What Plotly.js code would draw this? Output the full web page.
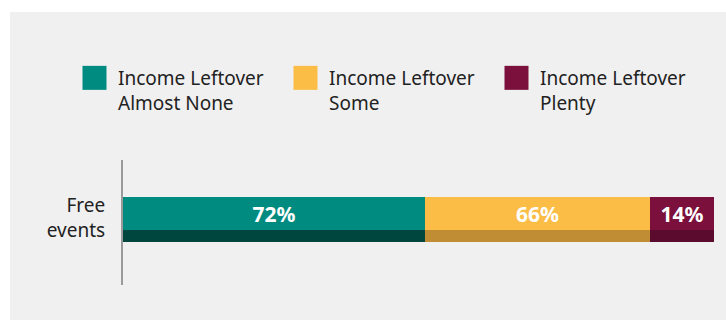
<!DOCTYPE html>
<html><head><meta charset="utf-8">
<script src="https://cdn.plot.ly/plotly-3.0.1.min.js"></script>
<style>
html,body{margin:0;padding:0;background:#ffffff;width:726px;height:320px;overflow:hidden}
#chart{position:absolute;left:10px;top:12px;width:716px;height:308px}
</style>
</head><body><div id="chart"></div>
<script>
// ---- data ----
const categories = ['Free<br>events'];
const seriesNames = ['Income Leftover<br>Almost None', 'Income Leftover<br>Some', 'Income Leftover<br>Plenty'];
const barShares = [51.1, 38.1, 10.8];          // drawn segment lengths (share of bar)
const barLabels = ['72%', '66%', '14%'];      // printed values
const mainColors = ['#008b80', '#fbbd45', '#7a103b'];
const shadowColors = ['#00463f', '#c08c34', '#5a0b2e'];

// ---- layout constants ----
const MAIN_Y = 71.5, MAIN_W = 33;
const SHADOW_Y = 49, SHADOW_W = 12;
const FONT = '"Noto Sans", "Open Sans", sans-serif';

const traces = [];
seriesNames.forEach((name, i) => {
  traces.push({
    type: 'bar', orientation: 'h',
    x: [barShares[i]], y: [MAIN_Y], width: [MAIN_W],
    name: name, legendgroup: 'g' + i,
    marker: {color: mainColors[i], line: {width: 0}},
    text: [barLabels[i]], textposition: 'inside', insidetextanchor: 'middle',
    constraintext: 'none',
    textfont: {family: FONT, size: 21, color: '#ffffff', weight: 'bold'},
    hoverinfo: 'skip'
  });
});
seriesNames.forEach((name, i) => {
  traces.push({
    type: 'bar', orientation: 'h',
    x: [barShares[i]], y: [SHADOW_Y], width: [SHADOW_W],
    name: name, legendgroup: 'g' + i, showlegend: false,
    marker: {color: shadowColors[i], line: {width: 0}},
    hoverinfo: 'skip'
  });
});

const layout = {
  width: 716, height: 308,
  paper_bgcolor: '#f0f0f0', plot_bgcolor: 'rgba(0,0,0,0)',
  margin: {l: 113, r: 12, t: 148, b: 35, pad: 0, autoexpand: false},
  barmode: 'stack', bargap: 0,
  font: {family: FONT, size: 19, color: '#222222'},
  xaxis: {range: [0, 100], visible: false, fixedrange: true},
  yaxis: {
    range: [0, 125], fixedrange: true,
    showgrid: false, zeroline: false,
    showline: true, linecolor: '#9a9a9a', linewidth: 2,
    ticks: '', tickvals: [67], ticktext: categories,
    ticklabelstandoff: 12,
    tickfont: {family: FONT, size: 19, color: '#222222'}
  },
  showlegend: true,
  legend: {
    orientation: 'h', xref: 'paper', yref: 'paper',
    x: -0.088, y: 1.808, xanchor: 'left', yanchor: 'top',
    valign: 'top', traceorder: 'normal',
    itemwidth: 37,
    entrywidth: 159, entrywidthmode: 'pixels',
    bgcolor: 'rgba(0,0,0,0)', borderwidth: 0,
    font: {family: FONT, size: 19, color: '#222222'}
  }
};

function bigSymbols() {
  document.querySelectorAll('#chart .legend .legendpoints path').forEach(p => {
    if (p.dataset.big) return;
    const t = p.getAttribute('transform') || '';
    p.setAttribute('transform', t + ' scale(2)');
    p.dataset.big = '1';
  });
}
Plotly.newPlot('chart', traces, layout, {displayModeBar: false, staticPlot: true}).then(() => {
  bigSymbols();
  setTimeout(bigSymbols, 50);
});
</script>
</body></html>
